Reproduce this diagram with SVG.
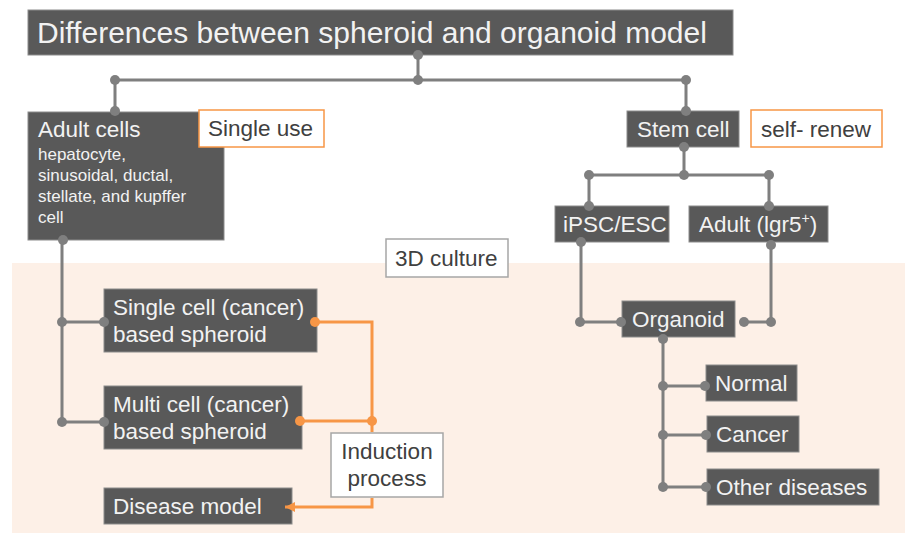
<svg xmlns="http://www.w3.org/2000/svg" width="905" height="534" viewBox="0 0 905 534">
<style>
text{font-family:"Liberation Sans",Arial,sans-serif;}
.dk{fill:#595959;stroke:#8c8c8c;stroke-width:1;}
.wt{fill:#f2f2f2;font-size:22.5px;}
.sm{fill:#f2f2f2;font-size:17px;}
.ob{fill:#ffffff;stroke:#f79646;stroke-width:1.5;}
.gb{fill:#ffffff;stroke:#a6a6a6;stroke-width:1.5;}
.gt{fill:#404040;font-size:22.5px;}
.ln{fill:none;stroke:#7f7f7f;stroke-width:3;}
.or{fill:none;stroke:#f79646;stroke-width:3;}
.dt{fill:#7f7f7f;}
.do{fill:#f79646;}
</style>
<defs>
<marker id="ah" markerWidth="12" markerHeight="12" refX="10" refY="5" orient="auto" markerUnits="userSpaceOnUse">
<path d="M0,0 L10,5 L0,10 Z" fill="#f79646"/>
</marker>
</defs>
<rect x="12" y="263" width="893" height="270" fill="#fdf0e7"/>
<g id="title"><rect class="dk" x="28" y="10" width="705" height="45"/><text x="37" y="43" fill="#f2f2f2" font-size="30">Differences between spheroid and organoid model</text></g>
<g id="adult"><rect class="dk" x="28" y="112" width="196" height="128"/><text class="wt" x="38" y="137">Adult cells</text>
<text class="sm" x="38" y="160">hepatocyte,</text><text class="sm" x="38" y="181">sinusoidal, ductal,</text><text class="sm" x="38" y="202">stellate, and kupffer</text><text class="sm" x="38" y="223">cell</text></g>
<g id="singleuse"><rect class="ob" x="199" y="110" width="125" height="37"/><text class="gt" x="208" y="136">Single use</text></g>
<g id="stem"><rect class="dk" x="627" y="111" width="112" height="36"/><text class="wt" x="637" y="137">Stem cell</text></g>
<g id="selfrenew"><rect class="ob" x="751" y="110" width="131" height="37"/><text class="gt" x="761" y="137">self- renew</text></g>
<g id="ipsc"><rect class="dk" x="555" y="206" width="114" height="36"/><text class="wt" x="563" y="232">iPSC/ESC</text></g>
<g id="adultlgr"><rect class="dk" x="689" y="206" width="139" height="36"/><text class="wt" x="699" y="232">Adult (lgr5<tspan font-size="14" dy="-9">+</tspan><tspan dy="9">)</tspan></text></g>
<g id="culture"><rect class="gb" x="386" y="239" width="122" height="38"/><text class="gt" x="395" y="266">3D culture</text></g>
<g id="organoid"><rect class="dk" x="622" y="301" width="113" height="36"/><text class="wt" x="632" y="327">Organoid</text></g>
<g id="normal"><rect class="dk" x="706" y="365" width="91" height="36"/><text class="wt" x="715" y="391">Normal</text></g>
<g id="cancer"><rect class="dk" x="707" y="416" width="92" height="36"/><text class="wt" x="716" y="442">Cancer</text></g>
<g id="other"><rect class="dk" x="707" y="469" width="172" height="36"/><text class="wt" x="716" y="495">Other diseases</text></g>
<g id="single"><rect class="dk" x="104" y="289" width="213" height="63"/><text class="wt" x="113" y="315">Single cell (cancer)</text><text class="wt" x="113" y="342">based spheroid</text></g>
<g id="multi"><rect class="dk" x="104" y="386" width="198" height="63"/><text class="wt" x="113" y="412">Multi cell (cancer)</text><text class="wt" x="113" y="439">based spheroid</text></g>
<g id="disease"><rect class="dk" x="104" y="488" width="188" height="36"/><text class="wt" x="113" y="514">Disease model</text></g>
<g id="induction"><rect class="gb" x="331" y="433" width="112" height="64"/><text class="gt" x="387" y="459" text-anchor="middle">Induction</text><text class="gt" x="387" y="486" text-anchor="middle">process</text></g>
<g id="connectors">
<path class="ln" d="M418,55 V80 M115,80 H686 M115,80 V111 M686,80 V111"/>
<path class="ln" d="M684,147 V175 M589,175 H769 M589,175 V206 M769,175 V206"/>
<path class="ln" d="M581,242 V322 H621 M771,245 V322 H744"/>
<path class="ln" d="M663,339 V487 M663,386 H703 M663,435 H703 M663,487 H703"/>
<path class="ln" d="M62,240 V422 M62,322 H104 M62,422 H104"/>
<path class="or" d="M315,322 H372 V432"/>
<path class="or" d="M372,498 V507 H285" marker-end="url(#ah)"/>
<path class="or" d="M300,421 H372"/>
<g class="dt">
<circle cx="418" cy="55" r="5"/><circle cx="418" cy="80" r="5"/><circle cx="115" cy="80" r="5"/><circle cx="686" cy="80" r="5"/>
<circle cx="115" cy="111" r="5"/><circle cx="686" cy="111" r="5"/>
<circle cx="684" cy="147" r="5"/><circle cx="684" cy="175" r="5"/><circle cx="589" cy="175" r="5"/><circle cx="769" cy="175" r="5"/>
<circle cx="589" cy="206" r="5"/><circle cx="769" cy="206" r="5"/>
<circle cx="581" cy="242" r="5"/><circle cx="771" cy="245" r="5"/>
<circle cx="580" cy="322" r="5"/><circle cx="621" cy="322" r="5"/><circle cx="771" cy="322" r="5"/><circle cx="744" cy="322" r="5"/>
<circle cx="663" cy="339" r="5"/><circle cx="663" cy="386" r="5"/><circle cx="663" cy="435" r="5"/><circle cx="663" cy="487" r="5"/>
<circle cx="705" cy="386" r="5"/><circle cx="706" cy="435" r="5"/><circle cx="706" cy="487" r="5"/>
<circle cx="63" cy="240" r="5"/><circle cx="62" cy="322" r="5"/><circle cx="62" cy="422" r="5"/><circle cx="104" cy="322" r="5"/><circle cx="104" cy="422" r="5"/>
</g>
<g class="do"><circle cx="315" cy="322" r="5"/><circle cx="300" cy="421" r="5"/><circle cx="372" cy="421" r="5"/></g>
</g>
</svg>
